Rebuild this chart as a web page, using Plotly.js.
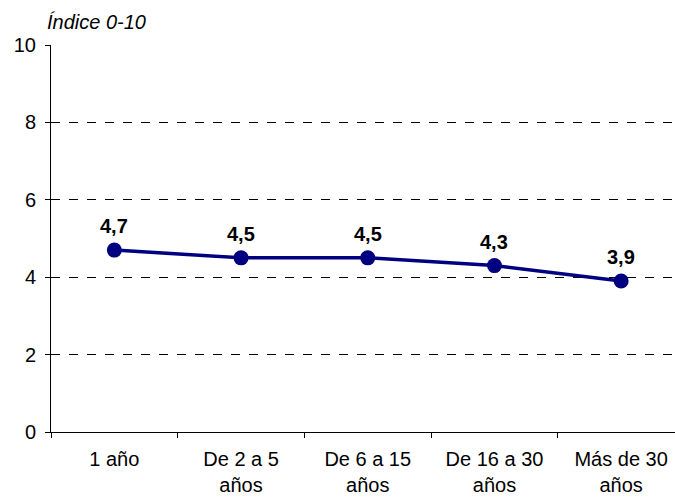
<!DOCTYPE html>
<html>
<head>
<meta charset="utf-8">
<script src="https://cdn.plot.ly/plotly-3.0.1.min.js"></script>
<style>html,body{margin:0;padding:0;background:#fff;}#chart{width:675px;height:500px;}</style>
</head>
<body>
<div id="chart"></div>
<script>
const categories = ["1 año", "De 2 a 5<br>años", "De 6 a 15<br>años", "De 16 a 30<br>años", "Más de 30<br>años"];
const values = [4.7, 4.5, 4.5, 4.3, 3.9];
const yTicks = [0, 2, 4, 6, 8, 10];
const yTitle = "Índice 0-10";

const FONT = "Liberation Sans, Arial, sans-serif";

const trace = {
  x: categories,
  y: values,
  type: "scatter",
  mode: "lines+markers",
  line: {color: "#000080", width: 3.5},
  marker: {color: "#000080", size: 15},
  hoverinfo: "skip"
};

const annotations = categories.map((c, i) => ({
  x: c,
  y: values[i],
  xref: "x",
  yref: "y",
  text: "<b>" + values[i].toFixed(1).replace(".", ",") + "</b>",
  showarrow: false,
  xanchor: "center",
  yanchor: "bottom",
  yshift: 11,
  font: {family: FONT, size: 20, color: "#000"}
}));

const layout = {
  width: 675,
  height: 500,
  separators: ",.",
  margin: {l: 51, r: 0, t: 44.5, b: 68.3, pad: 0},
  paper_bgcolor: "#fff",
  plot_bgcolor: "#fff",
  showlegend: false,
  font: {family: FONT, size: 20, color: "#000"},
  title: {
    text: "<i>" + yTitle + "</i>",
    font: {family: FONT, size: 20, color: "#000"},
    xref: "container", yref: "container",
    x: 47/675, xanchor: "left",
    y: 1 - 15/500, yanchor: "top"
  },
  annotations: annotations,
  xaxis: {
    type: "category",
    range: [-0.5, 4.425],
    showgrid: false,
    zeroline: false,
    showline: true,
    linecolor: "#000",
    linewidth: 1,
    ticks: "outside",
    tickson: "boundaries",
    ticklen: 5,
    tickcolor: "#000",
    ticklabelstandoff: 9,
    tickfont: {family: FONT, size: 20}
  },
  yaxis: {
    range: [0, 10],
    tickvals: yTicks,
    ticktext: yTicks.map(String),
    showgrid: true,
    gridcolor: "#000",
    gridwidth: 1,
    griddash: "dash",
    zeroline: false,
    showline: true,
    linecolor: "#000",
    linewidth: 1,
    ticks: "outside",
    ticklen: 5,
    tickcolor: "#000",
    ticklabelstandoff: 5,
    tickfont: {family: FONT, size: 20}
  }
};

Plotly.newPlot("chart", [trace], layout, {displayModeBar: false, staticPlot: true});
</script>
</body>
</html>
